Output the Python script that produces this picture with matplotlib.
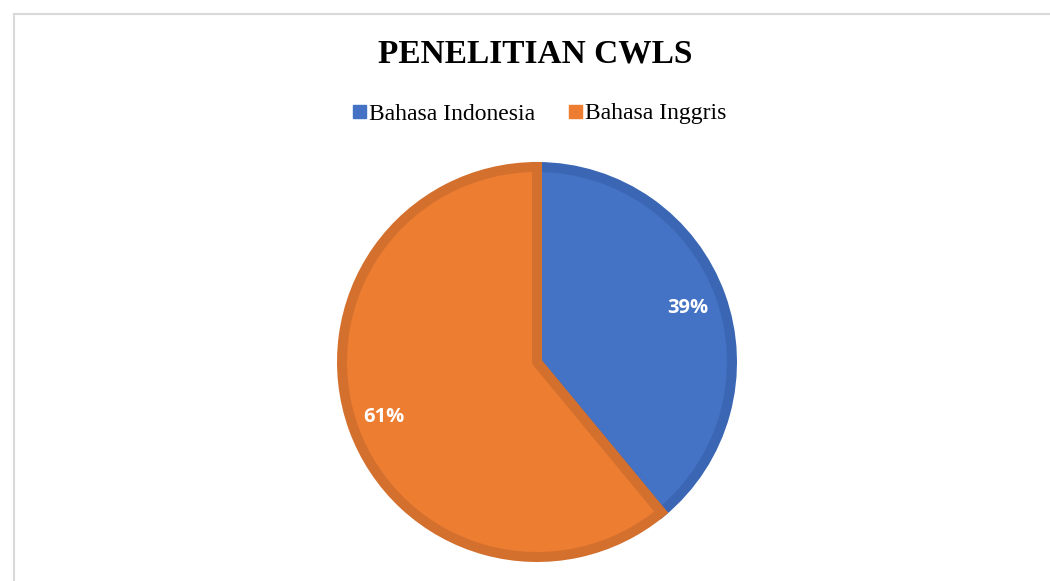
import numpy as np
import matplotlib.pyplot as plt
from matplotlib.patches import Rectangle, Patch

# data
categories = ['Bahasa Indonesia', 'Bahasa Inggris']
shares = [39, 61]
fill_colors = ['#4472C4', '#ED7D31']
edge_colors = ['#3A66B4', '#D4702E']
label_dist = [0.80, 0.815]

W, H = 1050, 581
fig = plt.figure(figsize=(W / 100, H / 100), dpi=100)

# light chart border (top and left edges visible)
fig.patches.append(Rectangle((14 / W, -0.01), 1.05, (H - 14) / H + 0.01,
                             transform=fig.transFigure, fill=False,
                             edgecolor='#D9D9D9', linewidth=1.5))

fig.text(535 / W, 1 - 54 / H, 'PENELITIAN CWLS', ha='center', va='center',
         family='Liberation Serif', fontweight='bold', fontsize=24)

handles = [Patch(facecolor=c, edgecolor=c) for c in fill_colors]
fig.legend(handles, categories, loc='center', bbox_to_anchor=(540 / W, 1 - 114 / H),
           ncol=2, frameon=False, prop={'family': 'Liberation Serif', 'size': 17},
           handlelength=0.52, handleheight=0.48, handletextpad=0.15, columnspacing=1.45)

r_px = 200
cx, cy = 537, 362
ax = fig.add_axes([(cx - r_px) / W, (H - cy - r_px) / H, 2 * r_px / W, 2 * r_px / H])

# stroke is centred on the outline, so shrink radius by half the stroke width
lw_px = 10
radius = 1 - (lw_px / 2) / r_px
wedges, _ = ax.pie(shares, colors=fill_colors, startangle=90, counterclock=False,
                   radius=radius, wedgeprops={'linewidth': lw_px * 0.72})
for w, ec in zip(wedges, edge_colors):
    w.set_edgecolor(ec)
    w.set_joinstyle('miter')

for w, v, d in zip(wedges, shares, label_dist):
    ang = np.deg2rad((w.theta1 + w.theta2) / 2)
    ax.text(d * np.cos(ang), d * np.sin(ang), f'{v}%', ha='center', va='center',
            color='white', fontsize=14.5, fontweight='bold', family='Open Sans')

ax.set_xlim(-1, 1)
ax.set_ylim(-1, 1)
ax.set_aspect('equal')
ax.axis('off')

fig.savefig('out.png', dpi=100)
